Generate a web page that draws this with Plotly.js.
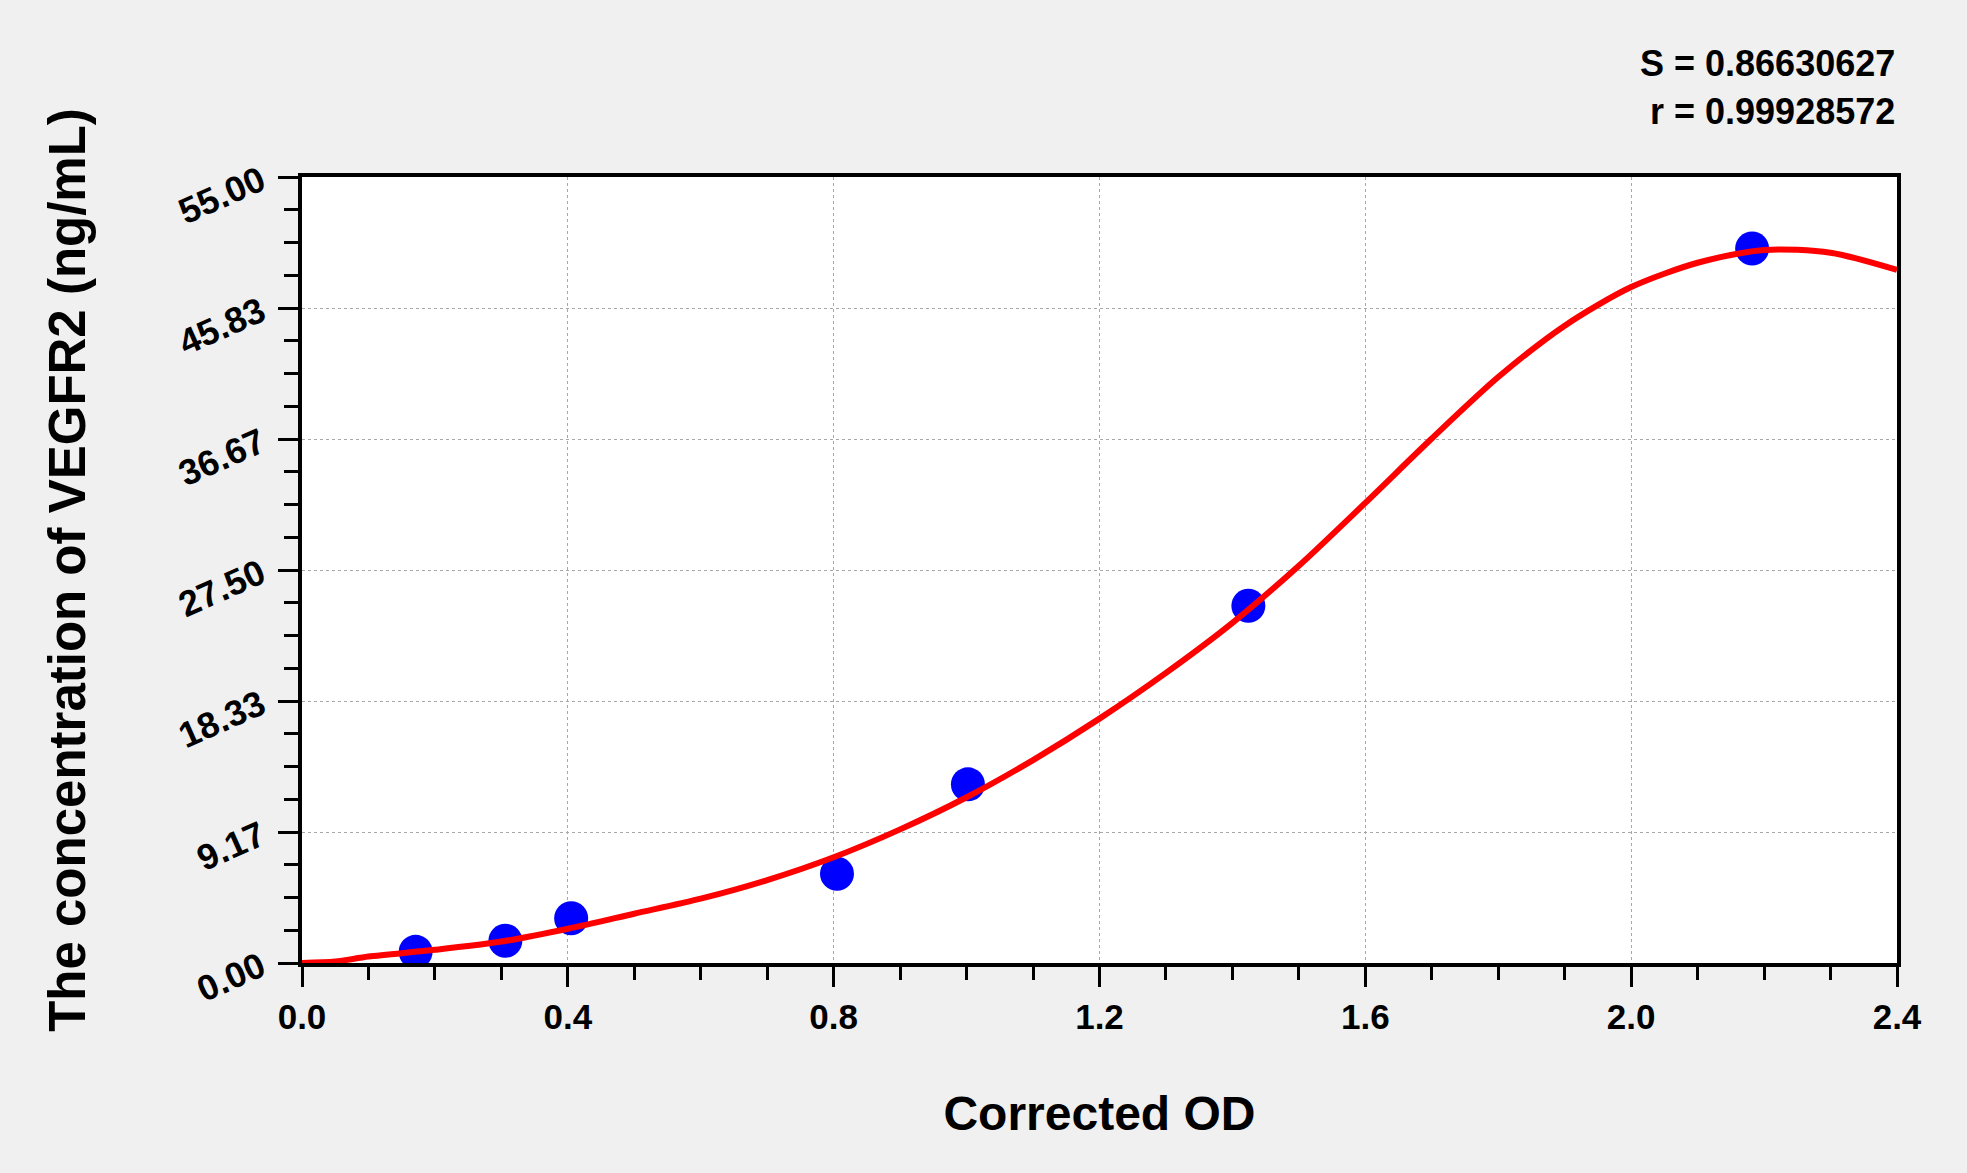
<!DOCTYPE html>
<html>
<head>
<meta charset="utf-8">
<script src="https://cdn.plot.ly/plotly-3.0.1.min.js"></script>
<style>
  html, body { margin: 0; padding: 0; background: #f0f0f0; }
  #chart { width: 1967px; height: 1173px; }
</style>
</head>
<body>
<div id="chart"></div>
<script>
// standards: corrected OD vs concentration
const standardOD = [0.171, 0.306, 0.405, 0.805, 1.002, 1.424, 2.182];
const standardConc = [0.78, 1.56, 3.13, 6.25, 12.5, 25, 50];

// fitted curve
const curveOD = [0, 0.05, 0.1, 0.2, 0.3, 0.4, 0.5, 0.6, 0.7, 0.8, 0.9, 1.0, 1.1, 1.2,
  1.3, 1.4, 1.5, 1.6, 1.7, 1.8, 1.9, 2.0, 2.1, 2.2, 2.3, 2.4];
const curveConc = [0, 0.1, 0.45, 0.92, 1.5, 2.4, 3.45, 4.5, 5.8, 7.4, 9.35, 11.6, 14.2, 17.1,
  20.3, 23.8, 27.8, 32.2, 36.7, 41.0, 44.6, 47.3, 49.0, 49.9, 49.7, 48.5];

const fitStats = ["S = 0.86630627", "r = 0.99928572"];

const fontFamily = '"Liberation Sans", Arial, sans-serif';

const points = {
  x: standardOD,
  y: standardConc,
  mode: "markers",
  type: "scatter",
  marker: { color: "#0000ff", size: 34 },
  hoverinfo: "x+y",
};

const fit = {
  x: curveOD,
  y: curveConc,
  mode: "lines",
  type: "scatter",
  line: { color: "#ff0000", width: 6, shape: "spline", smoothing: 0.8 },
};

const axisCommon = {
  showline: true,
  mirror: true,
  linecolor: "#000",
  linewidth: 4,
  ticks: "outside",
  ticklen: 20,
  tickwidth: 3,
  tickcolor: "#000",
  showgrid: true,
  gridcolor: "#a8a8a8",
  gridwidth: 1,
  griddash: "3px,3px",
  zeroline: false,
  tickfont: { family: fontFamily, size: 35, color: "#000", weight: "bold" },
};

const layout = {
  width: 1967,
  height: 1173,
  paper_bgcolor: "#f0f0f0",
  plot_bgcolor: "#ffffff",
  showlegend: false,
  margin: { l: 302, r: 70, t: 177, b: 210 },
  font: { family: fontFamily, color: "#000" },
  xaxis: {
    ...axisCommon,
    range: [0, 2.4],
    tick0: 0,
    dtick: 0.4,
    tickformat: ".1f",
    minor: { dtick: 0.1, ticks: "outside", ticklen: 13, tickwidth: 3, tickcolor: "#000", showgrid: false },
    title: { text: "Corrected OD", standoff: 62, font: { family: fontFamily, size: 48, weight: "bold" } },
  },
  yaxis: {
    ...axisCommon,
    range: [0, 55.001],
    tick0: 0,
    dtick: 55 / 6,
    tickformat: ".2f",
    tickangle: -24,
    ticklabelstandoff: 10,
    tickfont: { family: fontFamily, size: 36, color: "#000", weight: "bold" },
    minor: { dtick: 55 / 24, ticks: "outside", ticklen: 14, tickwidth: 3, tickcolor: "#000", showgrid: false },
    title: { text: "The concentration of VEGFR2 (ng/mL)", standoff: 72, font: { family: fontFamily, size: 51, weight: "bold" } },
  },
  annotations: fitStats.map((t, i) => ({
    text: t,
    xref: "paper",
    yref: "paper",
    x: 1,
    y: i === 0 ? 1.1438 : 1.0827,
    xanchor: "right",
    yanchor: "middle",
    showarrow: false,
    font: { family: fontFamily, size: 36, weight: "bold", color: "#000" },
  })),
};

Plotly.newPlot("chart", [points, fit], layout, { displayModeBar: false, staticPlot: true });
</script>
</body>
</html>
